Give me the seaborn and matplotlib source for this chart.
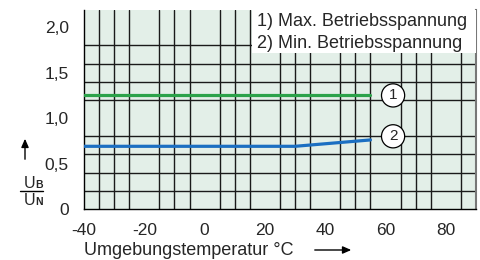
import matplotlib
matplotlib.use("Agg")
import matplotlib.pyplot as plt
from matplotlib.patches import Rectangle, FancyArrowPatch
from matplotlib.lines import Line2D
from matplotlib.ticker import MultipleLocator, FuncFormatter
import seaborn as sns

# Kennlinien (Temperatur in °C, U_B/U_N)
temp_max = [-40, 55]
u_max = [1.25, 1.25]
temp_min = [-40, 30, 55]
u_min = [0.69, 0.69, 0.76]

# Kennzeichnung der Kurven
marker_labels = ["1", "2"]
marker_x = [62.5, 62.5]
marker_y = [1.25, 0.80]

legend_lines = ["1) Max. Betriebsspannung", "2) Min. Betriebsspannung"]

x_ticks = [-40, -20, 0, 20, 40, 60, 80]
y_ticks = [0, 0.5, 1.0, 1.5, 2.0]

sns.set_style("white")
plt.rcParams['font.family'] = ['Liberation Sans', 'DejaVu Sans']
plt.rcParams['axes.unicode_minus'] = False

W, H = 481, 260
fig = plt.figure(figsize=(W / 100, H / 100), dpi=100)
ax = fig.add_axes([84 / W, 1 - 209 / H, (476 - 84) / W, (209 - 10) / H])
ax.set_facecolor('#e3efe8')

sns.lineplot(x=temp_max, y=u_max, ax=ax, color='#2ca24a', lw=2.3, zorder=5)
sns.lineplot(x=temp_min, y=u_min, ax=ax, color='#1b6fc2', lw=2.3, zorder=5)

for lab, mx, my in zip(marker_labels, marker_x, marker_y):
    ax.text(mx, my, lab, ha='center', va='center', fontsize=11, zorder=7,
            bbox=dict(boxstyle='circle,pad=0.3', fc='white', ec='black', lw=0.9))

ax.set_xlim(-40, 90)
ax.set_ylim(0, 2.19)
ax.xaxis.set_minor_locator(MultipleLocator(5))
ax.yaxis.set_minor_locator(MultipleLocator(0.2))
ax.set_xticks(x_ticks)
ax.set_yticks(y_ticks)
ax.yaxis.set_major_formatter(FuncFormatter(
    lambda v, p: "0" if v == 0 else f"{v:.1f}".replace('.', ',')))
ax.grid(False, which='major')
ax.grid(True, which='minor', color='#1a1a1a', lw=1.0)
ax.set_axisbelow(True)
ax.tick_params(which='major', direction='out', length=4, width=1,
               color='black', labelsize=12.5)
ax.tick_params(axis='y', pad=7)
ax.tick_params(axis='x', pad=6)
ax.tick_params(which='minor', length=0)

ax.spines['top'].set_visible(False)
ax.spines['right'].set_color('#777777')
ax.spines['right'].set_linewidth(1.5)
for s in ['left', 'bottom']:
    ax.spines[s].set_color('black')
    ax.spines[s].set_linewidth(1.0)

# Legendenkasten
ax.add_patch(Rectangle(((252 - 84) / 392, (209 - 53) / 199), 1.0, 1.0,
                       transform=ax.transAxes, fc='white', ec='none',
                       zorder=6, clip_on=True))
fig.text(257 / W, 1 - 21 / H, legend_lines[0], fontsize=13, va='center', ha='left')
fig.text(257 / W, 1 - 43 / H, legend_lines[1], fontsize=13, va='center', ha='left')

# x-Achsenbeschriftung mit Pfeil
fig.text(84 / W, 1 - 255 / H, "Umgebungstemperatur °C", fontsize=13,
         va='baseline', ha='left')
fig.patches.append(FancyArrowPatch(
    (312 / W, 1 - 250 / H), (354 / W, 1 - 250 / H), transform=fig.transFigure,
    arrowstyle='-|>,head_length=5,head_width=2.2', color='black', lw=1.0))

# y-Achsenbeschriftung U_B / U_N mit Pfeil
fig.patches.append(FancyArrowPatch(
    (25 / W, 1 - 162 / H), (25 / W, 1 - 136 / H), transform=fig.transFigure,
    arrowstyle='-|>,head_length=5,head_width=2.2', color='black', lw=1.0))
fig.text(24 / W, 1 - 188 / H, "U", fontsize=11.5, va='baseline', ha='left')
fig.text(35.5 / W, 1 - 188 / H, "B", fontsize=7.5, va='baseline', ha='left',
         fontweight='bold')
fig.lines.append(Line2D([20 / W, 43 / W], [1 - 191 / H, 1 - 191 / H],
                        transform=fig.transFigure, color='black', lw=1.0))
fig.text(24 / W, 1 - 205 / H, "U", fontsize=11.5, va='baseline', ha='left')
fig.text(35.5 / W, 1 - 205 / H, "N", fontsize=7.5, va='baseline', ha='left',
         fontweight='bold')

fig.savefig('out.png', dpi=100)
